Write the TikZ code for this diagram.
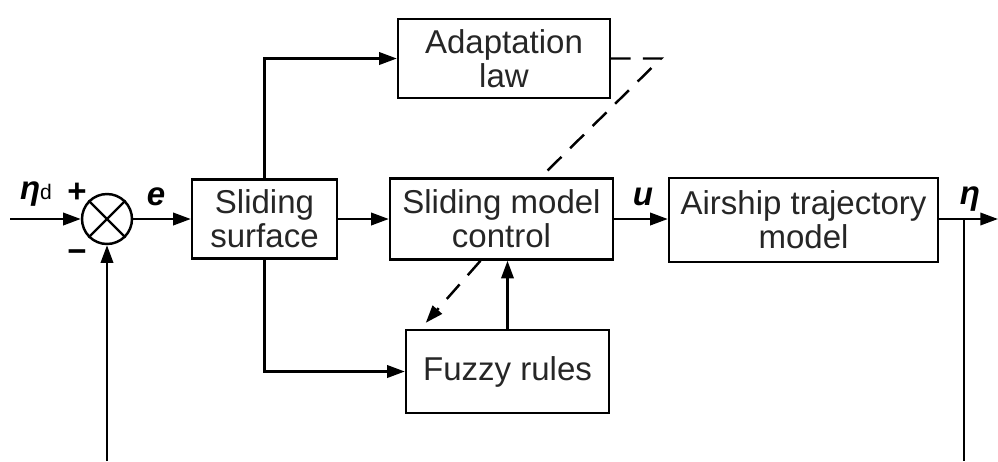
\documentclass[tikz,border=0pt]{standalone}
\usepackage{fontspec}
\setmainfont{Liberation Sans}
\usetikzlibrary{arrows.meta}
\newcommand{\bisym}[1]{\textbf{\textit{#1}}}
\begin{document}
\begin{tikzpicture}[x=0.02cm, y=-0.02cm, line width=1.4pt,
  every node/.style={font=\fontsize{18.8}{19.5}\selectfont, text=black!85},
  blk/.style={rectangle, draw, align=center, inner sep=0pt},
  arr/.style={-{Triangle[length=10pt, width=7pt]}},
  dashline/.style={dash pattern=on 11pt off 7pt},
  lbl/.style={inner sep=0pt, text=black}]
  \useasboundingbox (0,0) rectangle (998,461);
  \node[circle, draw, minimum size=1.0cm, inner sep=0pt] (sum) at (107,219) {};
  \draw (sum.north west) -- (sum.south east) (sum.north east) -- (sum.south west);
  \node[blk, minimum width=2.9cm, minimum height=1.58cm] (surf) at (264.5,219) {Sliding\\surface};
  \node[blk, minimum width=4.46cm, minimum height=1.62cm] (smc) at (501.5,219) {Sliding model\\control};
  \node[blk, minimum width=4.24cm, minimum height=1.58cm] (adapt) at (504,58.5) {Adaptation\\law};
  \node[blk, minimum width=4.06cm, minimum height=1.66cm] (fuzzy) at (507.5,371.5) {Fuzzy rules};
  \node[blk, minimum width=5.38cm, minimum height=1.68cm] (air) at (803.5,220) {Airship trajectory\\model};
  \coordinate (in) at (10,219);
  \coordinate (out) at (998,219);
  \coordinate (br) at (964,219);
  \coordinate (fbR) at (964,461);
  \coordinate (fbL) at (107,461);
  \coordinate (adk) at (661,58.5);
  \coordinate (adIn) at (540,178);
  % main path
  \draw[arr] (in) -- (sum);
  \draw[arr] (sum) -- (surf);
  \draw[arr] (surf) -- (smc);
  \draw[arr] (smc) -- (smc -| air.west);
  \draw[arr] (air.east |- out) -- (out);
  \draw (br) -- (fbR);
  \draw[arr] (fbL) -- (sum);
  % branches
  \draw[arr] (surf.north) |- (adapt);
  \draw[arr] (surf.south) |- (fuzzy);
  \draw[arr] (fuzzy.north) -- (fuzzy.north |- smc.south);
  \draw[dashline] (adapt.east) -- (adk) -- (adIn);
  \draw[arr, dashline] ([xshift=-0.42cm]smc.south) -- ([xshift=0.42cm, yshift=0.12cm]fuzzy.north west);
  % signal labels
  \node[lbl] (etad) at (36,194) {\bisym{η}{\fontsize{12}{12}\selectfont d}};
  \node[lbl] (plus) at (77,193) {\textbf{+}};
  \node[lbl] (minus) at (77,256) {\textbf{−}};
  \node[lbl] (e) at (156,197) {\bisym{e}};
  \node[lbl] (u) at (643,197) {\bisym{u}};
  \node[lbl] (eta) at (970,199) {\bisym{η}};
\end{tikzpicture}
\end{document}
